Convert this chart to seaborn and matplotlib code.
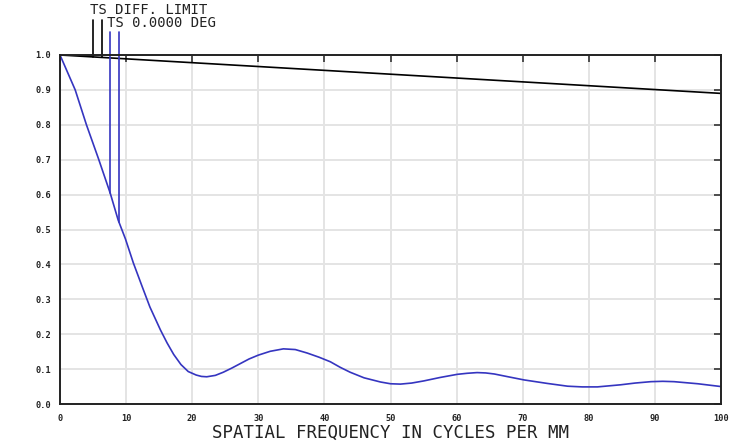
import numpy as np
import matplotlib
matplotlib.use("Agg")
import matplotlib.pyplot as plt
import seaborn as sns

# MTF data
diff_freq = [0, 10, 20, 30, 40, 50, 60, 70, 80, 90, 100]
diff_mtf = [1.0, 0.989, 0.978, 0.967, 0.956, 0.945, 0.934, 0.923, 0.912, 0.901, 0.890]

ts_freq = [0, 2.3, 4.0, 5.8, 7.6, 8.8, 9.9, 11.1, 12.4, 13.6, 15.2, 16.2, 17.2,
           18.3, 19.4, 20.6, 21.4, 22.2, 23.5, 24.7, 26.0, 27.3, 28.6, 30.0,
           31.8, 33.8, 35.6, 37.4, 39.2, 40.9, 42.4, 43.9, 46.0, 48.5, 50.0,
           51.5, 53.2, 55.0, 57.5, 60.1, 61.6, 63.1, 64.4, 65.7, 67.8, 70.2,
           73.7, 76.8, 79.0, 81.3, 84.8, 87.0, 89.4, 91.2, 92.9, 96.5, 100]
ts_mtf = [1.0, 0.90, 0.80, 0.704, 0.604, 0.527, 0.473, 0.404, 0.338, 0.278,
          0.212, 0.175, 0.142, 0.113, 0.093, 0.083, 0.079, 0.078, 0.082, 0.091,
          0.103, 0.116, 0.129, 0.14, 0.151, 0.158, 0.156, 0.146, 0.134, 0.121,
          0.105, 0.091, 0.075, 0.063, 0.058, 0.057, 0.06, 0.066, 0.076, 0.085,
          0.088, 0.09, 0.089, 0.086, 0.078, 0.069, 0.059, 0.051, 0.049, 0.049,
          0.055, 0.06, 0.064, 0.065, 0.064, 0.058, 0.05]

x_ticks = [0, 10, 20, 30, 40, 50, 60, 70, 80, 90, 100]
y_ticks = [0.0, 0.1, 0.2, 0.3, 0.4, 0.5, 0.6, 0.7, 0.8, 0.9, 1.0]

blue = "#3535c0"

sns.set_style("white")
plt.rcParams["font.family"] = ["DejaVu Sans Mono", "DejaVu Sans"]

fig = plt.figure(figsize=(7.36, 4.46), dpi=100)
ax = fig.add_axes([60 / 736, 42 / 446, 661 / 736, 349 / 446])

sns.lineplot(x=diff_freq, y=diff_mtf, ax=ax, color="black", linewidth=1.2)
sns.lineplot(x=ts_freq, y=ts_mtf, ax=ax, color=blue, linewidth=1.2)

ax.set_xlim(0, 100)
ax.set_ylim(0, 1)
ax.set_xticks(x_ticks)
ax.set_yticks(y_ticks)
ax.set_xticklabels([str(t) for t in x_ticks])
ax.set_yticklabels([f"{t:.1f}" for t in y_ticks])
ax.grid(True, color="#e4e4e4", linewidth=1.4)
ax.set_axisbelow(True)

ax.tick_params(direction="in", length=5, width=1.2, color="#333333",
               top=True, right=True, labelsize=6.2, labelcolor="#222222")
ax.tick_params(axis="x", pad=7)
ax.tick_params(axis="y", pad=6.5)
for lab in ax.get_xticklabels() + ax.get_yticklabels():
    lab.set_fontweight("bold")
for sp in ax.spines.values():
    sp.set_color("#222222")
    sp.set_linewidth(1.4)

ax.set_xlabel("SPATIAL FREQUENCY IN CYCLES PER MM", fontsize=12.5,
              color="#222222", labelpad=1)

# curve labels with leader lines (Zemax style)
ax.text(0.045, 1.108, "TS DIFF. LIMIT", transform=ax.transAxes,
        fontsize=10, color="#222222", ha="left", va="bottom")
ax.text(0.071, 1.071, "TS 0.0000 DEG", transform=ax.transAxes,
        fontsize=10, color="#222222", ha="left", va="bottom")

for f in [5.0, 6.3]:
    y0 = np.interp(f, diff_freq, diff_mtf)
    ax.plot([f, f], [y0, 1.10], color="black", linewidth=1.2, clip_on=False)
for f in [7.6, 8.9]:
    y0 = np.interp(f, ts_freq, ts_mtf)
    ax.plot([f, f], [y0, 1.067], color=blue, linewidth=1.2, clip_on=False)

fig.savefig("out.png", dpi=100)
